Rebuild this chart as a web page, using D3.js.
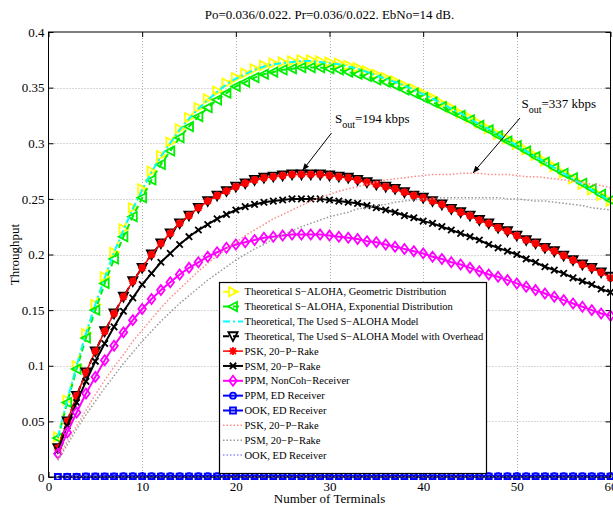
<!DOCTYPE html>
<html><head><meta charset="utf-8">
<script src="https://cdn.jsdelivr.net/npm/d3@7"></script>
<style>body{margin:0;background:#fff}svg{display:block}</style>
</head><body><svg id="c" width="613" height="506"></svg>
<script>
// ---------- data ----------
const terminals = [1,2,3,4,5,6,7,8,9,10,11,12,13,14,15,16,17,18,19,20,21,22,23,24,25,26,27,28,29,30,31,32,33,34,35,36,37,38,39,40,41,42,43,44,45,46,47,48,49,50,51,52,53,54,55,56,57,58,59,60];
const xTicks = [0,10,20,30,40,50,60];
const yTicks = [0,0.05,0.1,0.15,0.2,0.25,0.3,0.35,0.4];
const yTickLabels = ["0","0.05","0.1","0.15","0.2","0.25","0.3","0.35","0.4"];

const theoGeometric = [0.036,0.069,0.100,0.129,0.155,0.180,0.202,0.223,0.242,0.259,0.275,0.289,0.301,0.313,0.323,0.332,0.340,0.347,0.354,0.359,0.363,0.367,0.370,0.372,0.373,0.374,0.375,0.375,0.374,0.373,0.372,0.370,0.368,0.365,0.362,0.359,0.356,0.352,0.349,0.345,0.341,0.336,0.332,0.327,0.323,0.318,0.313,0.308,0.304,0.299,0.294,0.289,0.284,0.279,0.273,0.268,0.263,0.258,0.253,0.248];
const theoExponential = [0.035,0.067,0.097,0.125,0.150,0.174,0.196,0.216,0.234,0.251,0.267,0.281,0.293,0.305,0.315,0.324,0.332,0.339,0.345,0.351,0.355,0.359,0.362,0.364,0.366,0.367,0.368,0.368,0.368,0.367,0.366,0.364,0.362,0.360,0.357,0.355,0.352,0.348,0.345,0.341,0.337,0.333,0.329,0.325,0.321,0.316,0.312,0.307,0.302,0.298,0.293,0.288,0.283,0.278,0.273,0.269,0.264,0.259,0.254,0.249];
const theoUsed = [0.036,0.069,0.100,0.129,0.155,0.179,0.202,0.222,0.241,0.258,0.274,0.288,0.300,0.312,0.322,0.331,0.339,0.346,0.353,0.358,0.362,0.366,0.369,0.371,0.372,0.373,0.374,0.374,0.373,0.372,0.371,0.369,0.367,0.364,0.361,0.358,0.355,0.352,0.348,0.344,0.340,0.336,0.331,0.327,0.322,0.317,0.313,0.308,0.303,0.298,0.293,0.288,0.283,0.278,0.273,0.268,0.263,0.258,0.253,0.248];
const theoOverhead = [0.026,0.050,0.073,0.094,0.113,0.131,0.147,0.162,0.176,0.188,0.200,0.210,0.219,0.228,0.235,0.242,0.248,0.253,0.257,0.261,0.264,0.267,0.269,0.270,0.271,0.272,0.272,0.272,0.272,0.271,0.270,0.269,0.267,0.265,0.263,0.261,0.259,0.256,0.253,0.251,0.248,0.245,0.241,0.238,0.235,0.231,0.228,0.224,0.221,0.217,0.213,0.210,0.206,0.203,0.199,0.195,0.191,0.188,0.184,0.180];
const pskRake = [0.026,0.050,0.073,0.094,0.113,0.131,0.147,0.162,0.176,0.188,0.200,0.210,0.219,0.228,0.235,0.242,0.248,0.253,0.257,0.261,0.264,0.267,0.269,0.270,0.271,0.272,0.272,0.272,0.272,0.271,0.270,0.269,0.267,0.265,0.263,0.261,0.259,0.256,0.253,0.251,0.248,0.245,0.241,0.238,0.235,0.231,0.228,0.224,0.221,0.217,0.213,0.210,0.206,0.203,0.199,0.195,0.191,0.188,0.184,0.179];
const psmRake = [0.024,0.046,0.067,0.086,0.104,0.120,0.135,0.149,0.161,0.173,0.183,0.193,0.201,0.209,0.216,0.222,0.227,0.232,0.236,0.240,0.243,0.245,0.247,0.248,0.249,0.250,0.250,0.250,0.250,0.249,0.248,0.247,0.246,0.244,0.242,0.240,0.238,0.235,0.233,0.230,0.228,0.225,0.222,0.219,0.216,0.213,0.209,0.206,0.203,0.200,0.196,0.193,0.189,0.186,0.183,0.179,0.176,0.173,0.169,0.166];
const ppmNonCoh = [0.021,0.040,0.058,0.075,0.090,0.105,0.118,0.130,0.141,0.151,0.160,0.168,0.175,0.182,0.188,0.193,0.198,0.202,0.206,0.209,0.211,0.213,0.215,0.216,0.217,0.218,0.218,0.218,0.218,0.217,0.216,0.215,0.214,0.212,0.211,0.209,0.207,0.205,0.203,0.201,0.198,0.196,0.193,0.191,0.188,0.185,0.182,0.180,0.177,0.174,0.171,0.168,0.165,0.162,0.159,0.156,0.153,0.150,0.147,0.145];
const ppmED = [0.0002,0.0003,0.0004,0.0005,0.0005,0.0006,0.0006,0.0007,0.0007,0.0007,0.0008,0.0008,0.0008,0.0008,0.0008,0.0008,0.0008,0.0008,0.0008,0.0008,0.0008,0.0008,0.0008,0.0008,0.0008,0.0008,0.0008,0.0008,0.0008,0.0008,0.0008,0.0008,0.0008,0.0008,0.0008,0.0008,0.0008,0.0008,0.0008,0.0008,0.0008,0.0008,0.0008,0.0008,0.0008,0.0008,0.0008,0.0008,0.0008,0.0008,0.0008,0.0008,0.0008,0.0008,0.0008,0.0008,0.0008,0.0008,0.0008,0.0008];
const ookED = [0.0001,0.0002,0.0002,0.0003,0.0003,0.0003,0.0004,0.0004,0.0004,0.0004,0.0004,0.0004,0.0004,0.0004,0.0004,0.0004,0.0004,0.0004,0.0004,0.0004,0.0004,0.0004,0.0004,0.0004,0.0004,0.0004,0.0004,0.0004,0.0004,0.0004,0.0004,0.0004,0.0004,0.0004,0.0004,0.0004,0.0004,0.0004,0.0004,0.0004,0.0004,0.0004,0.0004,0.0004,0.0004,0.0004,0.0004,0.0004,0.0004,0.0004,0.0004,0.0004,0.0004,0.0004,0.0004,0.0004,0.0004,0.0004,0.0004,0.0004];
const pskRake2 = [0.016,0.032,0.046,0.060,0.074,0.087,0.099,0.110,0.122,0.132,0.142,0.152,0.161,0.169,0.177,0.185,0.192,0.199,0.205,0.211,0.217,0.222,0.227,0.232,0.236,0.240,0.244,0.248,0.251,0.254,0.257,0.259,0.261,0.263,0.265,0.267,0.268,0.269,0.270,0.271,0.272,0.272,0.272,0.273,0.273,0.273,0.272,0.272,0.272,0.271,0.270,0.270,0.269,0.268,0.267,0.266,0.265,0.263,0.262,0.260];
const psmRake2 = [0.015,0.029,0.043,0.056,0.068,0.080,0.091,0.102,0.112,0.122,0.131,0.140,0.148,0.156,0.163,0.170,0.177,0.183,0.189,0.195,0.200,0.205,0.209,0.214,0.218,0.221,0.225,0.228,0.231,0.234,0.236,0.238,0.241,0.242,0.244,0.245,0.247,0.248,0.249,0.250,0.250,0.251,0.251,0.251,0.251,0.251,0.251,0.251,0.250,0.250,0.249,0.248,0.248,0.247,0.246,0.245,0.244,0.242,0.241,0.240];
const ookED2 = [0.0001,0.0001,0.0002,0.0002,0.0002,0.0002,0.0003,0.0003,0.0003,0.0003,0.0003,0.0003,0.0003,0.0003,0.0003,0.0003,0.0003,0.0003,0.0003,0.0003,0.0003,0.0003,0.0003,0.0003,0.0003,0.0003,0.0003,0.0003,0.0003,0.0003,0.0003,0.0003,0.0003,0.0003,0.0003,0.0003,0.0003,0.0003,0.0003,0.0003,0.0003,0.0003,0.0003,0.0003,0.0003,0.0003,0.0003,0.0003,0.0003,0.0003,0.0003,0.0003,0.0003,0.0003,0.0003,0.0003,0.0003,0.0003,0.0003,0.0003];

const seriesNames = [
  "Theoretical S\u2212ALOHA, Geometric Distribution",
  "Theoretical S\u2212ALOHA, Exponential Distribution",
  "Theoretical, The Used S\u2212ALOHA Model",
  "Theoretical, The Used S\u2212ALOHA Model with Overhead",
  "PSK, 20\u2212P\u2212Rake",
  "PSM, 20\u2212P\u2212Rake",
  "PPM, NonCoh\u2212Receiver",
  "PPM, ED Receiver",
  "OOK, ED Receiver",
  "PSK, 20\u2212P\u2212Rake",
  "PSM, 20\u2212P\u2212Rake",
  "OOK, ED Receiver"
];
const seriesValues = [theoGeometric, theoExponential, theoUsed, theoOverhead, pskRake, psmRake, ppmNonCoh, ppmED, ookED, pskRake2, psmRake2, ookED2];
const seriesColors = ["#ffff00","#00ee00","#00ffff","#000000","#ff0000","#000000","#ff00ff","#0000ff","#0000ff","#ff8a8a","#999999","#8c8cff"];
const seriesDash = ["6,4","6,4","7,3,2,3","6,4",null,null,null,null,null,"1.5,2","1.5,2","1.5,2"];
const seriesWidth = [2,2,2,2,1.5,2,2,2,2,1.5,1.5,1.5];
const seriesMarker = ["triR","triL",null,"triD","star","x","diamond","circle","square",null,null,null];

const annotations = [
  {label:"=194 kbps", tx:335, ty:123, from:[331.5,133], to:[302.5,170.5]},
  {label:"=337 kbps", tx:521.5, ty:108, from:[520,118], to:[473,173]}
];

// ---------- layout ----------
const svg = d3.select("#c");
const L = 48.5, R = 610.5, T = 32, B = 477;
const x = d3.scaleLinear().domain([0,60]).range([L,R]);
const y = d3.scaleLinear().domain([0,0.4]).range([B,T]);
const FONT = "'Liberation Serif','Times New Roman',serif";

svg.append("rect").attr("width",613).attr("height",506).attr("fill","#fff");

// grid
const grid = svg.append("g").attr("stroke","#b0b0b0").attr("stroke-width",1).attr("stroke-dasharray","1,2");
xTicks.filter(v=>v>0&&v<60).forEach(v=>{
  grid.append("line").attr("x1",Math.round(x(v))+0.5).attr("x2",Math.round(x(v))+0.5).attr("y1",T).attr("y2",B);
});
yTicks.filter(v=>v>0&&v<0.4).forEach(v=>{
  grid.append("line").attr("x1",L).attr("x2",R).attr("y1",Math.round(y(v))+0.5).attr("y2",Math.round(y(v))+0.5);
});

// axes with D3 axis generators
const axB = svg.append("g").attr("transform",`translate(0,${B})`).call(d3.axisBottom(x).tickValues(xTicks).tickSize(-5).tickPadding(5).tickFormat(d3.format("d")));
const axT = svg.append("g").attr("transform",`translate(0,${T})`).call(d3.axisTop(x).tickValues(xTicks).tickSize(-5).tickFormat(""));
const axL = svg.append("g").attr("transform",`translate(${L},0)`).call(d3.axisLeft(y).tickValues(yTicks).tickSize(-5).tickPadding(4).tickFormat((d,i)=>yTickLabels[i]));
const axR = svg.append("g").attr("transform",`translate(${R},0)`).call(d3.axisRight(y).tickValues(yTicks).tickSize(-5).tickFormat(""));
[axB,axT,axL,axR].forEach(g=>{
  g.select(".domain").remove();
  g.selectAll("line").attr("stroke","#000");
  g.selectAll("text").attr("font-family",FONT).attr("font-size",13).attr("fill","#000");
});

// curves
svg.append("clipPath").attr("id","clp").append("rect").attr("x",L).attr("y",T-6).attr("width",R-L+3).attr("height",B-T+9);
const plot = svg.append("g").attr("clip-path","url(#clp)");
const line = d3.line().x((d,i)=>x(terminals[i])).y(d=>y(d));

function markerPath(type){
  switch(type){
    case "triR": return "M4.8,0L-4,-4.6L-4,4.6Z";
    case "triL": return "M-4.8,0L4,-4.6L4,4.6Z";
    case "triD": return "M0,4.8L-4.6,-4L4.6,-4Z";
    case "diamond": return "M0,-5L3.8,0L0,5L-3.8,0Z";
    case "circle": return "M3,0A3,3 0 1,1 -3,0A3,3 0 1,1 3,0Z";
    case "square": return "M-3,-3H3V3H-3Z";
    case "star": return "M-4,0H4M0,-4V4M-2.9,-2.9L2.9,2.9M-2.9,2.9L2.9,-2.9";
    case "x": return "M-3.2,-3.2L3.2,3.2M-3.2,3.2L3.2,-3.2";
  }
  return "";
}

seriesValues.forEach((vals,k)=>{
  const g = plot.append("g");
  g.append("path").attr("d",line(vals)).attr("fill","none")
    .attr("stroke",seriesColors[k]).attr("stroke-width",seriesWidth[k])
    .attr("stroke-dasharray",seriesDash[k]).attr("stroke-linejoin","round");
  if(seriesMarker[k]){
    const mw = seriesMarker[k]==="star" ? 2.2 : 1.8;
    g.selectAll("path.m").data(vals).enter().append("path").attr("class","m")
      .attr("transform",(d,i)=>`translate(${x(terminals[i])},${y(d)})`)
      .attr("d",markerPath(seriesMarker[k])).attr("fill","none")
      .attr("stroke",seriesColors[k]).attr("stroke-width",mw);
  }
});

// frame
svg.append("rect").attr("x",L).attr("y",T).attr("width",R-L).attr("height",B-T)
  .attr("fill","none").attr("stroke","#000").attr("stroke-width",1);

// title and labels
svg.append("text").attr("x",(L+R)/2).attr("y",19).attr("text-anchor","middle")
  .attr("font-family",FONT).attr("font-size",13).text("Po=0.036/0.022. Pr=0.036/0.022. EbNo=14 dB.");
svg.append("text").attr("x",(L+R)/2).attr("y",503).attr("text-anchor","middle")
  .attr("font-family",FONT).attr("font-size",13).text("Number of Terminals");
svg.append("text").attr("transform",`translate(19,${(T+B)/2}) rotate(-90)`).attr("text-anchor","middle")
  .attr("font-family",FONT).attr("font-size",13).text("Throughput");

// annotations
svg.append("defs").append("marker").attr("id","arr").attr("viewBox","0 -5 10 10").attr("refX",10).attr("refY",0)
  .attr("markerWidth",9).attr("markerHeight",7).attr("markerUnits","userSpaceOnUse").attr("orient","auto")
  .append("path").attr("d","M0,-4L10,0L0,4Z").attr("fill","#000");
annotations.forEach(a=>{
  const t = svg.append("text").attr("x",a.tx).attr("y",a.ty).attr("font-family",FONT).attr("font-size",13);
  t.append("tspan").text("S");
  t.append("tspan").attr("dy",5).attr("font-size",10).text("out");
  t.append("tspan").attr("dy",-5).text(a.label);
  svg.append("line").attr("x1",a.from[0]).attr("y1",a.from[1]).attr("x2",a.to[0]).attr("y2",a.to[1])
    .attr("stroke","#000").attr("stroke-width",1).attr("marker-end","url(#arr)");
});

// legend
const lg = svg.append("g");
lg.append("rect").attr("x",219.5).attr("y",282.5).attr("width",267).attr("height",191).attr("fill","#fff").attr("stroke","#000").attr("stroke-width",1.2);
seriesNames.forEach((name,k)=>{
  const cy = 291.7 + k*14.85;
  lg.append("line").attr("x1",223).attr("x2",243).attr("y1",cy).attr("y2",cy)
    .attr("stroke",seriesColors[k]).attr("stroke-width",seriesWidth[k]).attr("stroke-dasharray",seriesDash[k]);
  if(seriesMarker[k]){
    lg.append("path").attr("transform",`translate(233,${cy})`).attr("d",markerPath(seriesMarker[k]))
      .attr("fill","none").attr("stroke",seriesColors[k]).attr("stroke-width",1.8);
  }
  lg.append("text").attr("x",244.5).attr("y",cy+3.6).attr("font-family",FONT).attr("font-size",10.5).text(name);
});
</script></body></html>
